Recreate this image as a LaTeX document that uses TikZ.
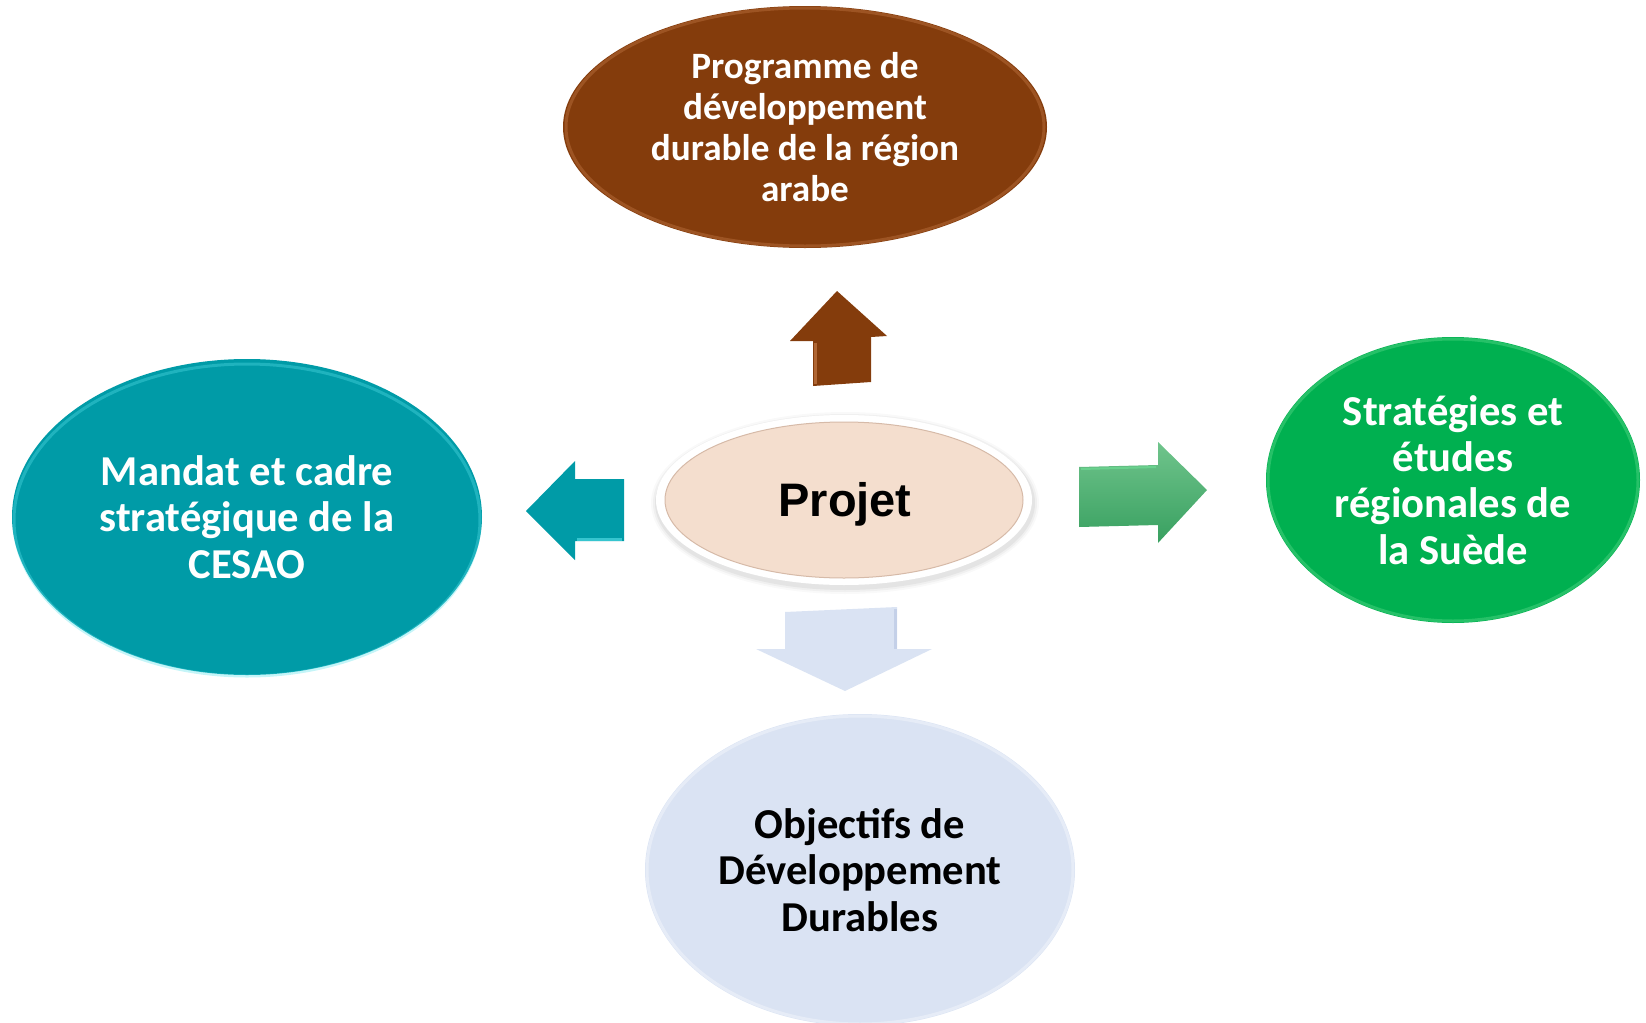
\documentclass[tikz,border=0pt]{standalone}
\usepackage{fontspec}
\setmainfont{Carlito}
\newfontfamily\arialfont{Liberation Sans}
\usetikzlibrary{shapes.geometric}
\definecolor{brownc}{RGB}{132,60,12}
\definecolor{brownl}{RGB}{205,130,80}
\definecolor{tealc}{RGB}{0,155,167}
\definecolor{teall}{RGB}{90,225,235}
\definecolor{greenc}{RGB}{0,176,80}
\definecolor{greenl}{RGB}{110,225,150}
\definecolor{lblue}{RGB}{218,227,243}
\definecolor{lblued}{RGB}{196,208,232}
\definecolor{peach}{RGB}{244,222,206}
\definecolor{peachd}{RGB}{214,186,168}
\definecolor{garrowt}{RGB}{112,196,140}
\definecolor{garrowb}{RGB}{56,160,96}
\begin{document}
\begin{tikzpicture}[x=0.5pt,y=-0.5pt,
  bubble/.style={ellipse, inner sep=0pt, align=center, text=white,
    font=\bfseries\fontsize{21.3}{23.2}\selectfont},
  rim/.style={line width=1.5pt, opacity=0.35},
  arrowbody/.style={line join=round}]
\useasboundingbox (0,0) rectangle (1646,1023);

% ---- top (brown) ----
\node[bubble, fill=brownc, minimum width=242pt, minimum height=121pt,
  font=\bfseries\fontsize{18.6}{20.5}\selectfont] (top) at (805,127)
  {Programme de\\développement\\durable de la région\\arabe};
\draw[brownl, rim] (805,127) ellipse [x radius=239, y radius=119];

% ---- left (teal) ----
\node[bubble, fill=tealc, minimum width=235pt, minimum height=158pt] (left) at (247,517)
  {Mandat et cadre\\stratégique de la\\CESAO};
\draw[teall, rim] (247,520) ellipse [x radius=233, y radius=156];

% ---- right (green) ----
\node[bubble, fill=greenc, minimum width=187pt, minimum height=143pt] (right) at (1453,480)
  {Stratégies et\\études\\régionales de\\la Suède};
\draw[greenl, rim] (1453,480) ellipse [x radius=185, y radius=141];

% ---- bottom (light blue) ----
\node[bubble, fill=lblue, text=black, minimum width=215pt, minimum height=156pt] (bottom) at (860,870)
  {Objectifs de\\Développement\\Durables};
\draw[white, rim] (860,870) ellipse [x radius=213, y radius=154];

% ---- centre (Projet) ----
\foreach \k/\o in {6/0.025,4/0.035,2/0.05}{
  \fill[black, opacity=\o] (845,503) ellipse [x radius=188+\k, y radius=85+\k];
}
\fill[white] (844,500) ellipse [x radius=188, y radius=85];
\node[ellipse, fill=peach, draw=peachd, line width=0.5pt, inner sep=0pt,
  minimum width=179pt, minimum height=78pt] (centre) at (844,500) {};
\node[font=\arialfont\bfseries\fontsize{23.5}{28}\selectfont, anchor=base] (ptext) at (845,516) {Projet};

% ---- arrows ----
% up (brown)
\coordinate (ut) at (837,291);
\fill[brownc, arrowbody] (ut) -- (887,336) -- (871,337) -- (871,382) -- (813,386)
  -- (813,341) -- (790,341) -- cycle;
\draw[brownl, line width=1.5pt, opacity=0.6] (815,343) -- (815,384);
% left (teal)
\coordinate (lt) at (526,511);
\fill[tealc, arrowbody] (lt) -- (575,461) -- (575,479) -- (624,479) -- (624,541)
  -- (575,541) -- (575,560) -- cycle;
\draw[teall, line width=1.5pt, opacity=0.6] (577,539) -- (622,539);
% right (green)
\coordinate (rt) at (1207,490);
\shade[top color=garrowt, bottom color=garrowb, arrowbody] (1079,467) -- (1158,465)
  -- (1158,442) -- (rt) -- (1158,543) -- (1158,525) -- (1079,527) -- cycle;
\draw[greenl, line width=1pt, opacity=0.6] (1081,469) -- (1156,467);
% down (light blue)
\coordinate (dt) at (845,691);
\fill[lblue, arrowbody] (785,612) -- (897,607) -- (897,649) -- (932,649) -- (dt)
  -- (756,649) -- (785,649) -- cycle;
\draw[lblued, line width=1.5pt] (895,609) -- (895,649);
\end{tikzpicture}
\end{document}
